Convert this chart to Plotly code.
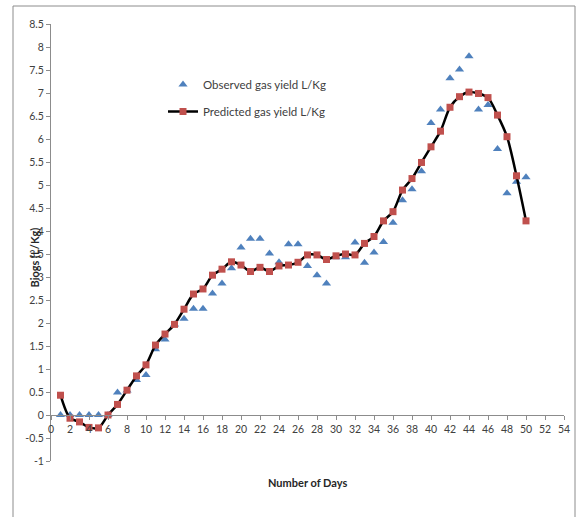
import plotly.graph_objects as go

# Days of the digestion run
days = list(range(1, 51))

# Measured biogas yield (L/Kg)
observed = [0.00, 0.00, 0.00, 0.00, 0.00, 0.00, 0.49, 0.53, 0.76, 0.87,
            1.43, 1.64, 1.97, 2.09, 2.31, 2.31, 2.64, 2.86, 3.19, 3.64,
            3.83, 3.83, 3.51, 3.32, 3.71, 3.71, 3.24, 3.04, 2.86, 3.43,
            3.43, 3.75, 3.31, 3.53, 3.76, 4.18, 4.67, 4.91, 5.30, 6.35,
            6.64, 7.32, 7.51, 7.80, 6.64, 6.74, 5.78, 4.82, 5.07, 5.17]

# Model-predicted biogas yield (L/Kg)
predicted = [0.43, -0.07, -0.15, -0.27, -0.28, 0.00, 0.23, 0.54, 0.85, 1.09,
             1.52, 1.76, 1.97, 2.30, 2.63, 2.74, 3.04, 3.17, 3.33, 3.26,
             3.12, 3.21, 3.12, 3.24, 3.26, 3.32, 3.48, 3.48, 3.38, 3.46,
             3.50, 3.48, 3.73, 3.88, 4.22, 4.42, 4.89, 5.14, 5.49, 5.83,
             6.17, 6.69, 6.92, 7.02, 6.99, 6.90, 6.52, 6.05, 5.20, 4.22]

y_ticks = [-1, -0.5, 0, 0.5, 1, 1.5, 2, 2.5, 3, 3.5, 4, 4.5, 5, 5.5, 6,
           6.5, 7, 7.5, 8, 8.5]
y_tick_text = ["-1", "-0.5", "0", "0.5", "1", "1.5", "2", "2.5", "3", "3.5",
               "4", "4.5", "5", "5.5", "6", "6.5", "7", "7.5", "8", "8.5"]
x_ticks = list(range(0, 56, 2))

FONT = "Lato"
TICK_COLOR = "#404040"
AXIS_COLOR = "#8c8c8c"

fig = go.Figure()

fig.add_trace(go.Scatter(
    x=days, y=observed, mode="markers", name="Observed gas yield L/Kg",
    legendgroup="obs",
    marker=dict(symbol="triangle-up", size=8, color="#4f81bd"),
))

fig.add_trace(go.Scatter(
    x=days, y=predicted, mode="lines+markers", name="Predicted gas yield L/Kg",
    legendgroup="pred",
    line=dict(color="black", width=2.5, shape="spline", smoothing=0.8),
    marker=dict(symbol="square", size=7, color="#c0504d"),
))

W, H = 586, 517
ML, MR, MT, MB = 51, 22, 24, 56
PW, PH = W - ML - MR, H - MT - MB


def px_x(p):
    return (p - ML) / PW


def px_y(p):
    return (H - MB - p) / PH


fig.update_layout(
    width=W, height=H,
    margin=dict(l=ML, r=MR, t=MT, b=MB),
    paper_bgcolor="white", plot_bgcolor="white",
    font=dict(family=FONT, size=11, color=TICK_COLOR),
    showlegend=True,
    legend=dict(
        x=px_x(163), y=px_y(70), xanchor="left", yanchor="top",
        traceorder="grouped", tracegroupgap=8,
        bgcolor="rgba(0,0,0,0)", font=dict(family=FONT, size=11.5, color="#404040"),
    ),
    xaxis=dict(
        range=[0, 54], tickvals=x_ticks, showgrid=False, zeroline=False,
        showline=True, linecolor=AXIS_COLOR, linewidth=1,
        ticks="outside", ticklen=4, tickcolor=AXIS_COLOR,
        anchor="free", position=1 / 9.5,
        tickfont=dict(family=FONT, size=10.5, color=TICK_COLOR),
    ),
    yaxis=dict(
        range=[-1, 8.5], tickvals=y_ticks, ticktext=y_tick_text,
        showgrid=False, zeroline=False,
        showline=True, linecolor=AXIS_COLOR, linewidth=1,
        ticks="outside", ticklen=4, tickcolor=AXIS_COLOR,
        tickfont=dict(family=FONT, size=10.5, color=TICK_COLOR),
    ),
)

# Axis titles
fig.add_annotation(
    text="<b>Number of Days</b>", xref="paper", yref="paper",
    x=0.5, y=px_y(482), yanchor="middle", showarrow=False,
    font=dict(family=FONT, size=11, color="#262626"),
)
fig.add_annotation(
    text="<b>Biogs (L/Kg)</b>", xref="paper", yref="paper",
    x=px_x(25), y=px_y(258), showarrow=False, textangle=-90,
    font=dict(family=FONT, size=11, color="#262626"),
)

# Chart-area frame
fig.add_shape(
    type="rect", xref="paper", yref="paper",
    x0=px_x(13), x1=px_x(575), y0=px_y(530), y1=px_y(6),
    line=dict(color="#8c8c8c", width=1), fillcolor="rgba(0,0,0,0)", layer="below",
)

fig.write_html("out.html")
